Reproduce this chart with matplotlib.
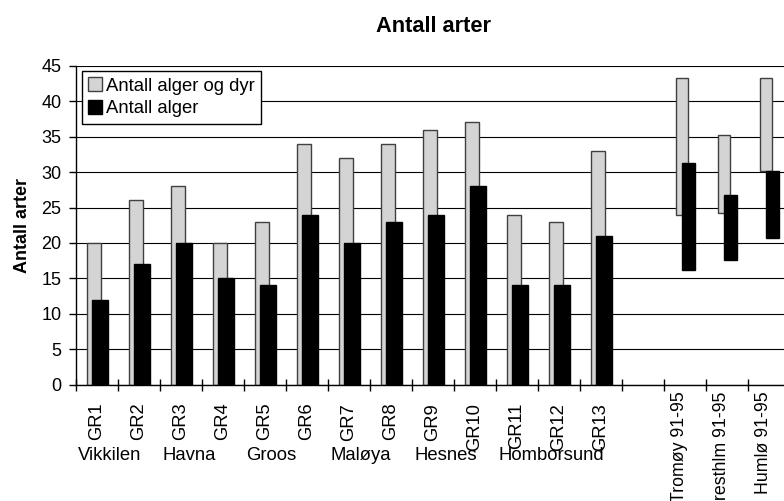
import numpy as np
import matplotlib
matplotlib.use("Agg")
from matplotlib import pyplot as plt

plt.rcParams['font.family'] = ['Liberation Sans', 'DejaVu Sans']

# GR stations: total species (algae + animals) and algae only
gr_labels = ["GR1", "GR2", "GR3", "GR4", "GR5", "GR6", "GR7",
             "GR8", "GR9", "GR10", "GR11", "GR12", "GR13"]
tot_gr = [20, 26, 28, 20, 23, 34, 32, 34, 36, 37, 24, 23, 33]
alg_gr = [12, 17, 20, 15, 14, 24, 20, 23, 24, 28, 14, 14, 21]

# site names and the first GR index of each site
site_names = ["Vikkilen", "Havna", "Groos", "Maløya", "Hesnes", "Homborsund"]
site_first = [0, 2, 4, 6, 8, 10]

# 91-95 ranges (min, max)
rng_labels = ["Tromøy 91-95", "Presthlm 91-95", "Humlø 91-95"]
tot_lo = [23.9, 24.2, 30.2]
tot_hi = [43.3, 35.2, 43.3]
alg_lo = [16.2, 17.6, 20.7]
alg_hi = [31.3, 26.8, 30.1]

fig = plt.figure(figsize=(7.84, 5.01), dpi=100)
ax = fig.add_axes([76/784, 116.3/501, 714/784, 318.9/501])

x = np.arange(len(gr_labels))
xr = np.arange(len(rng_labels)) + len(gr_labels) + 1

b1 = ax.bar(x + 0.43, tot_gr, width=0.35, color='#d4d4d4', edgecolor='#404040',
            lw=1, zorder=2, label="Antall alger og dyr")
b2 = ax.bar(x + 0.58, alg_gr, width=0.38, color='black', edgecolor='black',
            lw=1, zorder=3, label="Antall alger")
ax.bar(xr + 0.43, np.array(tot_hi) - np.array(tot_lo), bottom=tot_lo, width=0.30,
       color='#d4d4d4', edgecolor='#404040', lw=1, zorder=2)
ax.bar(xr + 0.58, np.array(alg_hi) - np.array(alg_lo), bottom=alg_lo, width=0.30,
       color='black', edgecolor='black', lw=1, zorder=3)

ax.set_xlim(0, 17)
ax.set_ylim(0, 45)
ax.set_yticks(range(0, 46, 5))
ax.yaxis.grid(True, color='black', lw=0.8)
ax.set_axisbelow(True)
for s in ['top', 'right']:
    ax.spines[s].set_visible(False)
ax.spines['left'].set_linewidth(1)
ax.spines['bottom'].set_linewidth(1)

ax.set_xticks(range(0, 18))
ax.set_xticklabels([])
ax.tick_params(axis='x', direction='inout', length=8.6, width=1)
ax.tick_params(axis='y', direction='out', length=5, width=1, pad=5.5, labelsize=13)

# category labels
for i, lab in enumerate(gr_labels):
    ax.annotate(lab, (i + 0.5, 0), xycoords=('data', 'axes fraction'),
                xytext=(0, -13), textcoords='offset points',
                rotation=90, ha='center', va='top', fontsize=13.2)
for i, lab in zip(xr, rng_labels):
    ax.annotate(lab, (i + 0.5, 0), xycoords=('data', 'axes fraction'),
                xytext=(-4.3, -5), textcoords='offset points',
                rotation=90, ha='center', va='top', fontsize=12.8,
                annotation_clip=False)
for name, i in zip(site_names, site_first):
    ax.annotate(name, (i + 0.05, 0), xycoords=('data', 'axes fraction'),
                xytext=(0, -45), textcoords='offset points',
                ha='left', va='top', fontsize=13.3)

ax.set_title("Antall arter", fontsize=15.7, fontweight='bold', pad=24)
ax.set_ylabel("Antall arter", fontsize=13, fontweight='bold', va='center')
ax.yaxis.set_label_coords(-0.075, 0.5)

leg = ax.legend(handles=[b1, b2], loc='upper left', bbox_to_anchor=(0.008, 0.984),
                borderaxespad=0, fontsize=13.3, fancybox=False, framealpha=1,
                edgecolor='black', handlelength=0.75, handleheight=0.75,
                handletextpad=0.2, borderpad=0.35, labelspacing=0.3)
leg.get_frame().set_linewidth(1)
leg.set_zorder(5)

fig.savefig("out.png", dpi=100)
